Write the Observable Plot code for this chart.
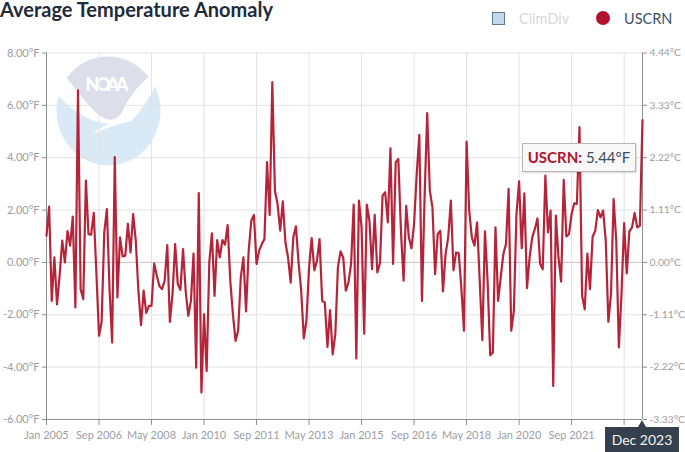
<!DOCTYPE html>
<html>
<head>
<meta charset="utf-8">
<script src="https://cdn.jsdelivr.net/npm/d3@7"></script>
<script src="https://cdn.jsdelivr.net/npm/@observablehq/plot@0.6"></script>
<style>
html,body{margin:0;padding:0;background:#fff;}
#page{position:relative;width:685px;height:452px;overflow:hidden;font-family:Lato,sans-serif;}
#logo{position:absolute;left:0;top:0;}
#chart{position:absolute;left:0;top:0;}
#title{position:absolute;left:0;top:0;font-size:20px;line-height:18px;font-weight:700;color:#1f2b3a;white-space:nowrap;}
.leg{position:absolute;white-space:nowrap;font-size:14.5px;line-height:20px;}
#sq{position:absolute;left:492px;top:12px;width:11px;height:11px;background:#c6d8ea;border:1px solid #5f7a94;}
#dot{position:absolute;left:596px;top:11px;width:14px;height:14px;border-radius:50%;background:#b2122e;}
#tip{position:absolute;left:522px;top:143px;width:112px;height:27px;line-height:27px;text-align:center;background:#f8f8f8;border:1px solid #b5b5b5;box-shadow:1px 1px 2px rgba(0,0,0,.15);font-size:15px;color:#3c4a5a;white-space:nowrap;}
#tip b{color:#b2122e;}
#flag{position:absolute;left:605px;top:427px;width:74px;height:25px;background:#34404e;color:#f2f2f2;font-size:14px;line-height:25px;text-align:center;white-space:nowrap;}
#flag:before{content:"";position:absolute;left:33px;top:-7px;border-left:4px solid transparent;border-right:4px solid transparent;border-bottom:7px solid #34404e;}
</style>
</head>
<body>
<div id="page">
<svg id="logo" width="685" height="452">
  <ellipse cx="108.5" cy="110.5" rx="52" ry="55" fill="#d9eaf6"/>
  <path d="M50,45 L170,45 L170,84 L155,87 C148,100 140,112 131,121 C118,124 105,128 93,134 C98,129 104,126 109,124 C88,122 72,110 57,95 L50,95 Z" fill="#fff"/>
  <path d="M66.7,78 A52,55 0 0 1 148.5,77 C135,88 128,100 122,112 C118,119 112,121 106,119 C95,115 82,97 66.7,78 Z" fill="#dcdfe9"/>
  <text x="107" y="91" text-anchor="middle" font-family="Lato,sans-serif" font-weight="900" font-size="18" fill="#fff" textLength="43">NOAA</text>
</svg>
<div id="chart"></div>
<div id="title">Average Temperature Anomaly</div>
<div id="sq"></div>
<div class="leg" style="left:519px;top:9px;color:#d8d8d8;">ClimDiv</div>
<div id="dot"></div>
<div class="leg" style="left:624px;top:9px;color:#3d4f63;">USCRN</div>
<div id="tip"><b>USCRN:</b> 5.44°F</div>
<div id="flag">Dec 2023</div>
</div>
<script>
const monthNames = ["Jan","Feb","Mar","Apr","May","Jun","Jul","Aug","Sep","Oct","Nov","Dec"];
const years = d3.range(2005, 2024);
const months = years.flatMap(y => monthNames.map(m => `${m} ${y}`));

// USCRN average temperature anomaly, degrees F, Jan 2005 - Dec 2023
const tempF = [
 1.02,2.13,-1.47,0.19,-1.6,-0.5,0.83,0,1.2,0.64,1.75,-1.72,
 6.57,-1.02,-1.4,3.13,1.08,1.06,1.89,-0.4,-2.8,-2.26,1.15,2.04,
 -1.0,-3.06,4.02,-1.34,0.96,0.23,0.26,1.47,0.38,1.85,0.83,-1.08,
 -2.4,-1.08,-1.93,-1.66,-1.66,-0.04,-0.5,-0.9,-1.02,-0.7,0.66,-2.27,
 -1.2,0.7,-0.83,-1.05,0.51,-1.08,-2.04,-1.47,0.34,-4.02,2.65,-4.97,
 -1.98,-4.15,0,1.11,-1.28,0.85,0.19,0.85,0.68,1.43,-0.7,-1.98,
 -3.0,-2.6,-0.57,0.19,-1.87,0.45,1.59,1.81,-0.06,0.45,0.7,0.89,
 3.83,1.81,6.89,2.74,2.23,1.21,2.33,0.77,0.19,-0.77,0.96,1.38,
 0,-1.08,-2.9,-2.23,-0.2,0.93,-0.3,0.06,0.89,-1.47,-1.53,-3.23,
 -1.82,-3.51,-2.74,-0.17,0.42,0.19,-1.08,-0.77,-0.06,2.21,-3.67,2.36,
 1.34,-2.72,2.21,1.59,-0.26,1.82,-0.38,-0.04,2.55,2.68,1.53,4.36,
 -0.06,3.83,3.95,1.21,-0.7,2.16,0.96,0.54,1.47,3.38,4.87,-1.47,
 2.49,5.7,2.74,2.1,-0.45,1.08,1.21,-1.11,0.32,0.96,2.36,-0.3,
 0.38,0.36,-0.96,-2.61,4.62,1.98,0.96,0.64,1.53,-0.7,-2.97,1.19,
 -0.7,-3.55,-3.44,1.34,-1.47,-0.57,0.32,0.7,2.81,-2.61,-1.85,1.85,
 3.1,0.54,2.64,-0.98,0.19,0.96,1.28,1.68,-0.06,-0.26,3.32,1.15,
 1.98,-4.72,1.79,0.19,-0.73,3.15,0.99,1.08,1.85,2.26,2.23,5.17,
 -1.28,-1.79,0.34,-1.02,0.98,1.21,2.0,1.72,1.98,0.83,-2.27,-1.21,
 2.42,0.83,-3.25,-1.2,1.5,-0.42,1.19,1.34,1.89,1.34,1.4,5.44
];

const xTickLabels = ["Jan 2005","Sep 2006","May 2008","Jan 2010","Sep 2011","May 2013","Jan 2015","Sep 2016","May 2018","Jan 2020","Sep 2021","May 2023"];
const hiddenTickLabel = "May 2023"; // covered by the Dec 2023 flag in the chart
const yTicksF = [-6,-4,-2,0,2,4,6,8];
const fToC = f => f * 5 / 9;
const rows = months.map((month, i) => ({month, value: tempF[i]}));

const axisGrey = "#8b8f93";
const labelGrey = "#9a9ea3";

const plot = Plot.plot({
  width: 685,
  height: 452,
  marginTop: 52.5,
  marginBottom: 33,
  marginLeft: 46,
  marginRight: 43,
  style: {background: "transparent", fontFamily: "Lato, sans-serif", fontSize: "11px"},
  x: {type: "point", domain: months, padding: 0},
  y: {domain: [-6, 8]},
  marks: [
    Plot.gridX(xTickLabels, {stroke: "#e2e2e2", strokeOpacity: 1, strokeWidth: 1}),
    Plot.gridY(yTicksF, {stroke: "#e2e2e2", strokeOpacity: 1, strokeWidth: 1}),
    Plot.ruleY([0], {stroke: "#c8c8c8", strokeWidth: 1}),
    Plot.ruleY([-6], {stroke: axisGrey, strokeWidth: 1}),
    Plot.ruleX([months[0], months[months.length - 1]], {stroke: axisGrey, strokeWidth: 1}),
    Plot.line(rows, {x: "month", y: "value", stroke: "#b2182f", strokeWidth: 2.2, strokeOpacity: 0.95}),
    Plot.axisX({ticks: xTickLabels, label: null, tickSize: 6, tickPadding: 6, color: labelGrey, stroke: axisGrey,
      tickFormat: d => d === hiddenTickLabel ? "" : d}),
    Plot.axisY({ticks: yTicksF, anchor: "left", label: null, tickSize: 4, tickPadding: 3, color: labelGrey, stroke: axisGrey,
      tickFormat: d => d.toFixed(2) + "°F"}),
    Plot.axisY({ticks: yTicksF, anchor: "right", label: null, tickSize: 4, tickPadding: 3, fontSize: 10.3, color: labelGrey, stroke: axisGrey,
      tickFormat: d => fToC(d).toFixed(2) + "°C"})
  ]
});
document.getElementById("chart").append(plot);
</script>
</body>
</html>
